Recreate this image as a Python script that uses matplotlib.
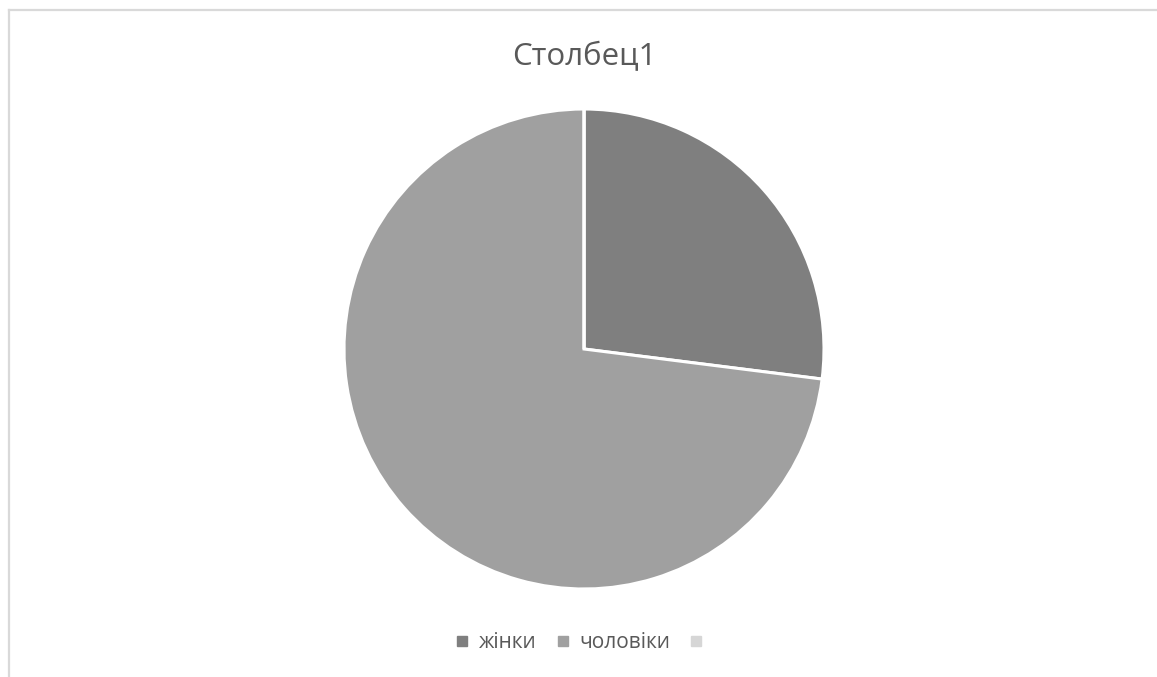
import matplotlib
matplotlib.use("Agg")
import matplotlib.pyplot as plt
from matplotlib.lines import Line2D

title = "Столбец1"
categories = ["жінки", "чоловіки", ""]
values = [27, 73, 0]
colors = ["#7f7f7f", "#a0a0a0", "#d6d6d6"]

W, H = 1157, 677
fig = plt.figure(figsize=(W / 100, H / 100), dpi=100)
fig.patch.set_facecolor("white")

cx, cy, r = 584, 349, 240
ax = fig.add_axes([(cx - r) / W, 1 - (cy + r) / H, 2 * r / W, 2 * r / H])
wedges, _ = ax.pie(values, colors=colors, startangle=90, counterclock=False,
                   radius=1, wedgeprops=dict(edgecolor="white", linewidth=2.2))
ax.set_xlim(-1, 1)
ax.set_ylim(-1, 1)
ax.set_aspect("equal")
ax.axis("off")

fig.text(cx / W, 1 - 57 / H, title, ha="center", va="center",
         fontsize=22.5, color="#595959", family=["Open Sans", "DejaVu Sans"])

handles = [Line2D([], [], marker="s", linestyle="none", markersize=7.5,
                  markerfacecolor=c, markeredgecolor=c) for c in colors]
leg = fig.legend(handles, categories, loc="center", bbox_to_anchor=(cx / W, 1 - 643 / H),
                 ncol=3, frameon=False, handletextpad=0.45, columnspacing=0.9,
                 handlelength=0.7, prop={"family": ["Open Sans", "DejaVu Sans"], "size": 15})
for t in leg.get_texts():
    t.set_color("#595959")

# chart border (top and left visible)
fig.add_artist(Line2D([8.5 / W, 1.0], [1 - 9.5 / H, 1 - 9.5 / H], color="#d9d9d9", linewidth=1.6,
                      transform=fig.transFigure))
fig.add_artist(Line2D([8.5 / W, 8.5 / W], [0.0, 1 - 9.5 / H], color="#d9d9d9", linewidth=1.6,
                      transform=fig.transFigure))

fig.savefig("out.png", dpi=100, facecolor="white")
